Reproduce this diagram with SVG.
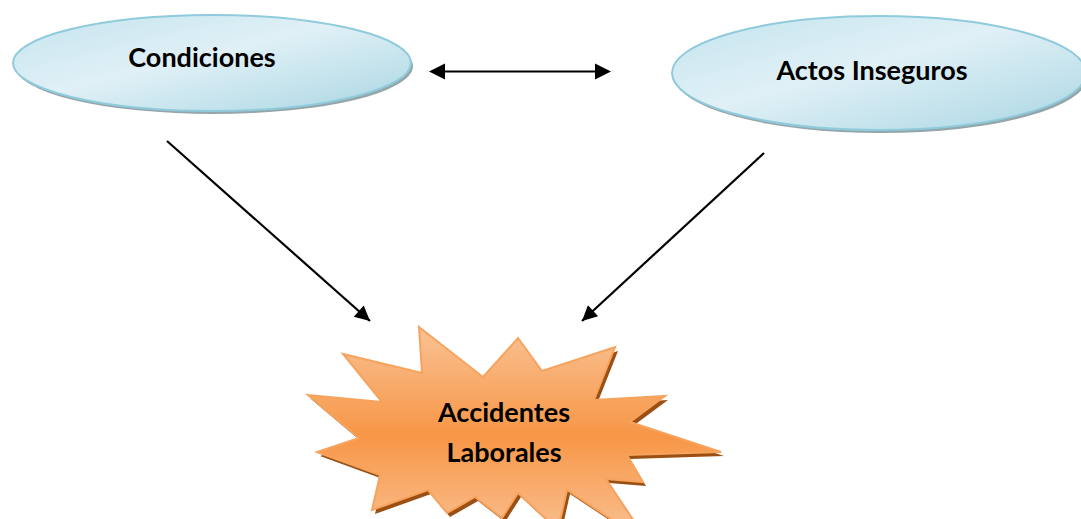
<svg xmlns="http://www.w3.org/2000/svg" width="1081" height="519" viewBox="0 0 1081 519">
  <style>
    .label { font-family: Lato, "Liberation Sans", sans-serif; font-weight: bold; font-size: 27px; fill: #000; text-anchor: middle; }
    .oval { fill: url(#blueFill); stroke: #8fcbdc; stroke-width: 2; }
    .oval-shadow { fill: #95a6ab; }
    .burst { fill: url(#orangeFill); stroke: #f6a35e; stroke-width: 2; stroke-linejoin: miter; }
    .burst-shadow { fill: #9c4f12; }
    .conn { stroke: #000; stroke-width: 2.2; fill: none; }
  </style>
  <defs>
    <linearGradient id="blueFill" x1="0" y1="0" x2="1" y2="1">
      <stop offset="0" stop-color="#c4e4ee"/>
      <stop offset="0.45" stop-color="#e0f0f6"/>
      <stop offset="1" stop-color="#a9d6e3"/>
    </linearGradient>
    <linearGradient id="orangeFill" x1="0" y1="0" x2="0" y2="1">
      <stop offset="0" stop-color="#f9c294"/>
      <stop offset="0.5" stop-color="#f79646"/>
      <stop offset="1" stop-color="#fac499"/>
    </linearGradient>
    <marker id="arrowBig" viewBox="0 0 10 10" refX="10" refY="5" markerWidth="17" markerHeight="15" orient="auto-start-reverse" markerUnits="userSpaceOnUse">
      <path d="M0,0 L10,5 L0,10 z" fill="#000"/>
    </marker>
  </defs>

  <g id="connectors">
    <line class="conn" x1="444" y1="71.5" x2="596" y2="71.5"/>
    <path d="M429,71.5 L445,63.5 L445,79.5 z" fill="#000"/>
    <path d="M611,71.5 L595,63.5 L595,79.5 z" fill="#000"/>
    <line class="conn" x1="167" y1="141" x2="370" y2="321" marker-end="url(#arrowBig)"/>
    <line class="conn" x1="764" y1="153" x2="582" y2="321" marker-end="url(#arrowBig)"/>
  </g>

  <g id="node-condiciones">
    <ellipse class="oval-shadow" cx="214" cy="66" rx="199" ry="48"/>
    <ellipse class="oval" cx="212" cy="63" rx="199" ry="48"/>
    <text class="label" x="202" y="67">Condiciones</text>
  </g>

  <g id="node-actos">
    <ellipse class="oval-shadow" cx="881" cy="76" rx="207" ry="57"/>
    <ellipse class="oval" cx="879" cy="73" rx="207" ry="57"/>
    <text class="label" x="872" y="80">Actos Inseguros</text>
  </g>

  <g id="node-accidentes">
    <polygon class="burst-shadow" transform="translate(3,4)" points="419,327 483,377 518,338 542,371 615,347 594,400 665,396 630,422 721,452 627,455 643,482 606,479 650,545 567,490 558,530 518,493 502,518 475,497 447,513 428,490 372,510 380,475 317,452 359,438 308,395 382,402 343,354 422,373"/>
    <polygon class="burst" points="419,327 483,377 518,338 542,371 615,347 594,400 665,396 630,422 721,452 627,455 643,482 606,479 650,545 567,490 558,530 518,493 502,518 475,497 447,513 428,490 372,510 380,475 317,452 359,438 308,395 382,402 343,354 422,373"/>
    <text class="label" x="504" y="422">Accidentes</text>
    <text class="label" x="504" y="462">Laborales</text>
  </g>
</svg>
